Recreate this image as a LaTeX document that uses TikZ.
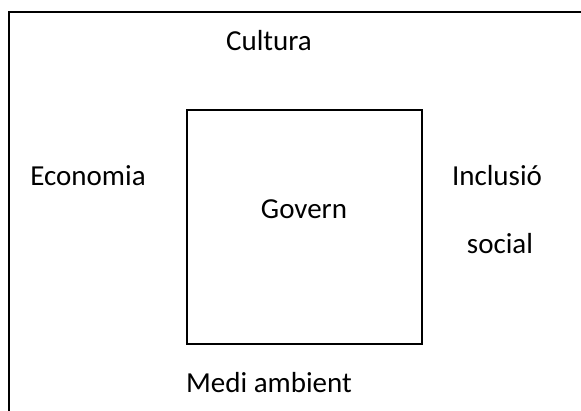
\documentclass[tikz,border=0pt]{standalone}
\usepackage{fontspec}
\setmainfont{Carlito}
\usetikzlibrary{positioning}

\begin{document}
\begin{tikzpicture}[x=1pt, y=-1pt, line width=2pt,
    etiqueta/.style={anchor=base, inner sep=0pt, font=\fontsize{29}{35}\selectfont}]
    \useasboundingbox (0,0) rectangle (581,410);
    % marc exterior (obert per baix i per la dreta)
    \draw (9,412) -- (9,11.5) -- (583,11.5);
    % caixa del govern
    \draw (187,110) rectangle (422,344);
    % etiquetes
    \node[etiqueta] (cultura) at (269,50) {Cultura};
    \node[etiqueta] (economia) at (88,185) {Economia};
    \node[etiqueta] (inclusio) at (497,185) {Inclusió};
    \node[etiqueta] (social) at (500,253) {social};
    \node[etiqueta] (govern) at (304,218) {Govern};
    \node[etiqueta] (medi) at (269,392) {Medi ambient};
\end{tikzpicture}
\end{document}
